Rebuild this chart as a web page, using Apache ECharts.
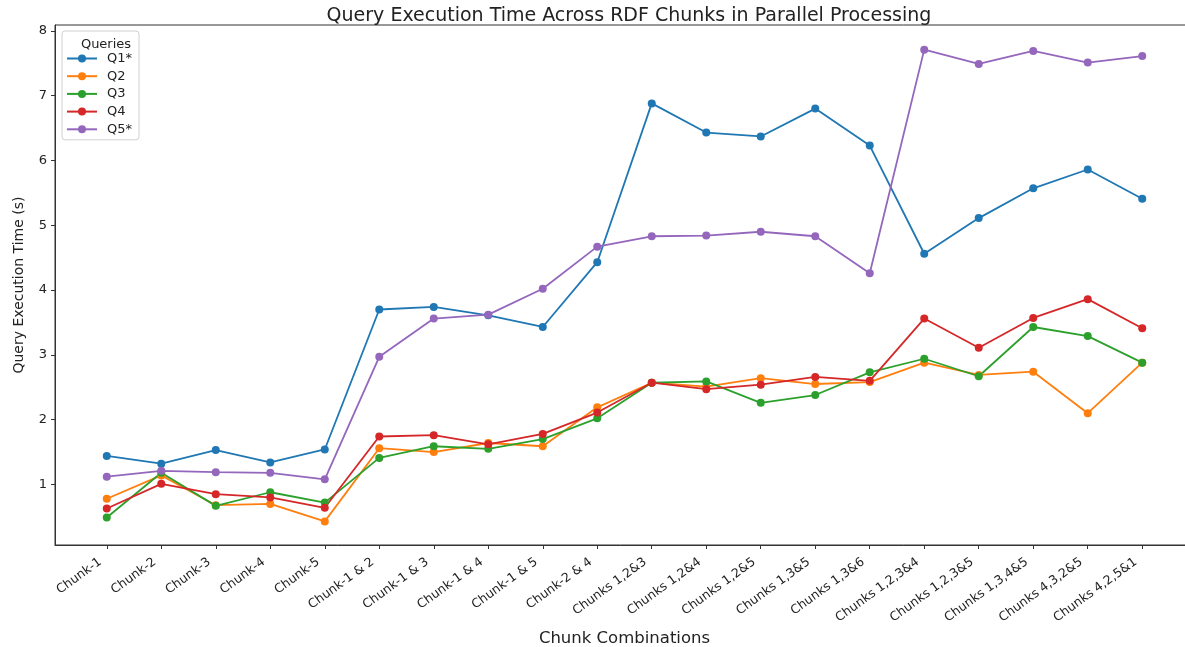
<!DOCTYPE html>
<html>
<head>
<meta charset="utf-8">
<script src="https://cdn.jsdelivr.net/npm/echarts@6/dist/echarts.min.js"></script>
<style>html,body{margin:0;padding:0;background:#fff;}#c{width:1185px;height:647px;}</style>
</head>
<body>
<div id="c"></div>
<script>
const categories = ["Chunk-1","Chunk-2","Chunk-3","Chunk-4","Chunk-5","Chunk-1 & 2","Chunk-1 & 3","Chunk-1 & 4","Chunk-1 & 5","Chunk-2 & 4","Chunks 1,2&3","Chunks 1,2&4","Chunks 1,2&5","Chunks 1,3&5","Chunks 1,3&6","Chunks 1,2,3&4","Chunks 1,2,3&5","Chunks 1,3,4&5","Chunks 4,3,2&5","Chunks 4,2,5&1"];
const seriesNames = ["Q1*","Q2","Q3","Q4","Q5*"];
const q1 = [1.44,1.32,1.53,1.34,1.54,3.70,3.74,3.61,3.43,4.43,6.88,6.43,6.37,6.80,6.23,4.56,5.11,5.57,5.86,5.41];
const q2 = [0.78,1.14,0.68,0.70,0.43,1.56,1.50,1.64,1.59,2.19,2.57,2.51,2.64,2.55,2.58,2.88,2.69,2.74,2.10,2.88];
const q3 = [0.49,1.18,0.67,0.88,0.72,1.41,1.59,1.55,1.70,2.02,2.57,2.59,2.26,2.38,2.73,2.94,2.67,3.43,3.29,2.88];
const q4 = [0.63,1.01,0.85,0.80,0.64,1.74,1.76,1.62,1.78,2.11,2.57,2.47,2.54,2.66,2.60,3.56,3.11,3.57,3.86,3.41];
const q5 = [1.12,1.21,1.19,1.18,1.08,2.97,3.56,3.62,4.02,4.67,4.83,4.84,4.90,4.83,4.26,7.71,7.49,7.69,7.51,7.61];
const yTicks = [1,2,3,4,5,6,7,8];
const colors = ["#1f77b4","#ff7f0e","#2ca02c","#d62728","#9467bd"];
const allSeries = [q1,q2,q3,q4,q5];
const xIdx = categories.map((_, i) => i);

const chart = echarts.init(document.getElementById('c'), null, {renderer:'canvas'});
const font = "DejaVu Sans";
chart.setOption({
  animation: false,
  backgroundColor: '#fff',
  textStyle: {fontFamily: font},
  title: [
    {text: "Query Execution Time Across RDF Chunks in Parallel Processing", left: 624, top: 2, textAlign: 'center',
     textStyle: {fontFamily: font, fontSize: 19, fontWeight: 'normal', color: '#222'}},
    {text: "Queries", left: 101, top: 33, textAlign: 'center',
     textStyle: {fontFamily: font, fontSize: 13, fontWeight: 'normal', color: '#222'}}
  ],
  legend: {
    orient: 'vertical', left: 62, top: 31,
    padding: [21, 7, 4, 4],
    borderColor: '#d0d0d0', borderWidth: 1, borderRadius: 3,
    backgroundColor: 'rgba(255,255,255,0.8)',
    itemWidth: 30, itemHeight: 10, itemGap: 4.7,
    textStyle: {fontFamily: font, fontSize: 13, color: '#222', padding: [0, 0, 0, 5]},
    data: seriesNames
  },
  grid: {left: 55, top: 25, width: 1139, height: 520, show: true, borderColor: '#333', borderWidth: 1, containLabel: false, outerBoundsMode: 'none'},
  xAxis: {
    type: 'value', min: -0.95, max: 19.95,
    name: "Chunk Combinations", nameLocation: 'middle', nameGap: 85, nameMoveOverlap: false,
    nameTextStyle: {fontFamily: font, fontSize: 16.5, color: '#222'},
    splitLine: {show: false},
    axisLine: {show: true, onZero: false, lineStyle: {color: '#333'}},
    axisTick: {show: true, length: 4, lineStyle: {color: '#333'}, customValues: xIdx},
    axisLabel: {rotate: 36, margin: 11, padding: [0, 8, 0, 0], fontFamily: font, fontSize: 12.5, color: '#222',
      customValues: xIdx, formatter: v => categories[Math.round(v)] || ''}
  },
  yAxis: {
    type: 'value', min: 0.066, max: 8.09,
    name: "Query Execution Time (s)", nameLocation: 'middle', nameGap: 29, nameRotate: 90, nameMoveOverlap: false,
    nameTextStyle: {fontFamily: font, fontSize: 14, color: '#222'},
    splitLine: {show: false},
    axisLine: {show: true, onZero: false, lineStyle: {color: '#333'}},
    axisTick: {show: true, length: 4, lineStyle: {color: '#333'}, customValues: yTicks},
    axisLabel: {fontFamily: font, fontSize: 13, color: '#222', margin: 8, customValues: yTicks,
      formatter: v => String(Math.round(v))}
  },
  series: seriesNames.map((n, k) => ({
    name: n, type: 'line', symbol: 'circle', symbolSize: 8,
    lineStyle: {width: 1.8, color: colors[k]},
    itemStyle: {color: colors[k]},
    data: allSeries[k].map((v, i) => [i, v])
  }))
});
</script>
</body>
</html>
